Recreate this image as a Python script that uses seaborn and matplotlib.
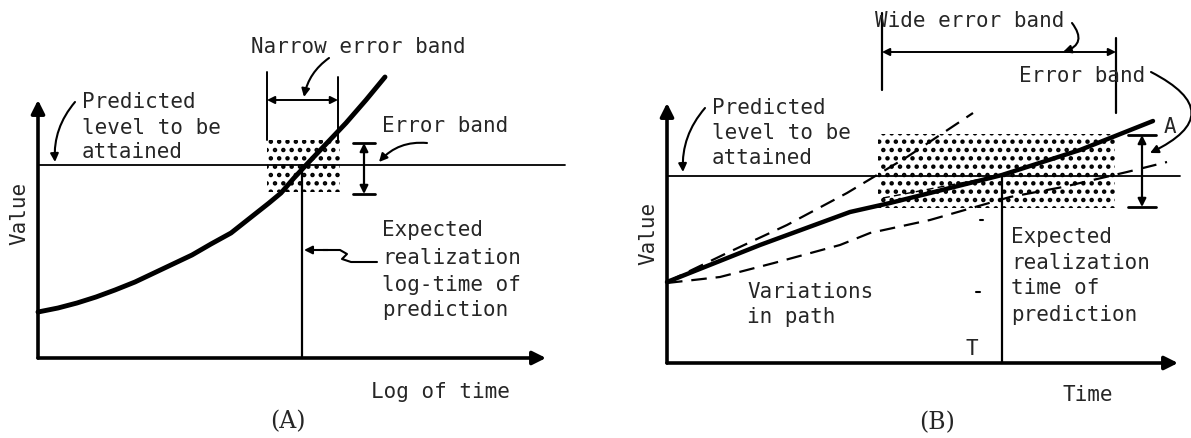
import matplotlib.pyplot as plt
import seaborn as sns
import pandas as pd
from matplotlib.patches import Rectangle, FancyArrowPatch

sns.set_theme(style='white')
plt.rcParams['font.family'] = ['DejaVu Sans Mono', 'DejaVu Sans']
plt.rcParams['hatch.linewidth'] = 2.0
plt.rcParams['hatch.color'] = 'black'

FS = 15

# ---------------- panel A data (diagram units, origin at axis corner) ----------------
a_curve_x = [0, 20, 39, 58, 77, 97, 116, 135, 154, 173, 193, 212, 231, 243, 256, 270, 289, 308, 328, 347]
a_curve_y = [46, 50, 55, 61, 68, 76, 85, 94, 103, 114, 125, 140, 155, 165, 180, 195, 215, 235, 258, 281]
a_level = 193
a_level_end = 527
a_axis_end = (508, 258)
a_realize_x = 264
a_box_x = (229, 302)
a_box_y = (166, 218)
a_narrow_x = (229, 300)
a_narrow_y = 258
a_err_x = 326
a_err_y = (164, 215)

# ---------------- panel B data ----------------
b_main_x = [0, 93, 183, 223, 263, 335, 413, 486]
b_main_y = [81, 118, 151, 160, 170, 188, 213, 242]
b_upper_x = [0, 60, 120, 180, 240, 306]
b_upper_y = [81, 110, 138, 170, 206, 250]
b_lower_x = [0, 53, 107, 173, 203, 263, 343, 396, 460, 500]
b_lower_y = [80, 86, 100, 118, 130, 143, 166, 176, 191, 201]
b_thin_x = [216, 320]
b_thin_y = [165, 185]
b_level = 187
b_level_end = 513
b_axis_end = (511, 260)
b_realize_x = 335
b_box_x = (211, 448)
b_box_y = (155, 229)
b_wide_x = (215, 449)
b_wide_y = 311
b_err_x = 475
b_err_y = (156, 228)

fig = plt.figure(figsize=(11.91, 4.38), dpi=100)
axA = fig.add_axes([0, 0, 590 / 1191, 1])
axB = fig.add_axes([590 / 1191, 0, 601 / 1191, 1])
axA.set_xlim(-38, 552)
axA.set_ylim(-80, 358)
axB.set_xlim(-77, 524)
axB.set_ylim(-75, 363)
for ax in (axA, axB):
    ax.axis('off')


def arrow(ax, start, end, style='-|>', lw=1.5, ms=14, rad=0.0):
    p = FancyArrowPatch(start, end, arrowstyle=style, mutation_scale=ms, lw=lw,
                        color='black', connectionstyle=f'arc3,rad={rad}',
                        shrinkA=0, shrinkB=0)
    ax.add_patch(p)


def axes_frame(ax, end):
    arrow(ax, (0, 0), (end[0], 0), lw=2.6, ms=20)
    arrow(ax, (0, 0), (0, end[1]), lw=2.6, ms=20)


def stipple(ax, xs, ys):
    ax.add_patch(Rectangle((xs[0], ys[0]), xs[1] - xs[0], ys[1] - ys[0],
                           facecolor='none', edgecolor='black', lw=0, hatch='..'))


def vband(ax, x, ys, cap=11):
    arrow(ax, (x, ys[0]), (x, ys[1]), style='<|-|>', lw=1.6, ms=12)
    for y in ys:
        ax.plot([x - cap, x + cap], [y, y], color='black', lw=2)


def lines(ax, x, ys, texts, **kw):
    for y, t in zip(ys, texts):
        ax.text(x, y, t, fontsize=FS, va='center', ha='left', **kw)


# ================= Panel A =================
axes_frame(axA, a_axis_end)
axA.plot([0, a_level_end], [a_level, a_level], color='black', lw=1.3)
stipple(axA, a_box_x, a_box_y)
dfa = pd.DataFrame({'t': a_curve_x, 'v': a_curve_y})
sns.lineplot(data=dfa, x='t', y='v', ax=axA, color='black', lw=3.5)
axA.plot([a_realize_x, a_realize_x], [0, a_level], color='black', lw=1.6)

# narrow error band
for x, top in zip(a_narrow_x, (286, 281)):
    axA.plot([x, x], [a_box_y[1], top], color='black', lw=1.4)
arrow(axA, (a_narrow_x[0], a_narrow_y), (a_narrow_x[1], a_narrow_y), style='<|-|>', lw=1.4, ms=11)
axA.text(320, 311, 'Narrow error band', fontsize=FS, ha='center', va='center')
arrow(axA, (291, 300), (266, 261), lw=1.5, ms=12, rad=0.2)

vband(axA, a_err_x, a_err_y)
axA.text(344, 232, 'Error band', fontsize=FS, va='center')
arrow(axA, (389, 215), (341, 196), lw=1.5, ms=12, rad=0.25)

lines(axA, 44, [256, 230, 206], ['Predicted', 'level to be', 'attained'])
arrow(axA, (37, 256), (17, 196), lw=1.5, ms=12, rad=0.2)

lines(axA, 344, [128, 100, 73, 48], ['Expected', 'realization', 'log-time of', 'prediction'])
axA.plot([339, 313, 304, 309, 302, 285], [96, 96, 99, 104, 108, 108], color='black', lw=1.5)
arrow(axA, (290, 108), (266, 108), lw=1.5, ms=12)

axA.text(-19, 145, 'Value', fontsize=FS, rotation=90, ha='center', va='center')
axA.text(402, -34, 'Log of time', fontsize=FS, ha='center', va='center')
axA.text(250, -64, '(A)', fontsize=17, ha='center', va='center', family='DejaVu Serif')

# ================= Panel B =================
axes_frame(axB, b_axis_end)
axB.plot([0, b_level_end], [b_level, b_level], color='black', lw=1.3)
stipple(axB, b_box_x, b_box_y)
dfb = pd.DataFrame({'t': b_main_x, 'v': b_main_y})
sns.lineplot(data=dfb, x='t', y='v', ax=axB, color='black', lw=3.2)
sns.lineplot(x=b_upper_x, y=b_upper_y, ax=axB, color='black', lw=1.6,
             linestyle=(0, (7, 4)))
sns.lineplot(x=b_lower_x, y=b_lower_y, ax=axB, color='black', lw=1.6,
             linestyle=(0, (7, 4)))
sns.lineplot(x=b_thin_x, y=b_thin_y, ax=axB, color='black', lw=1.0,
             linestyle=(0, (5, 3)))
axB.plot([b_realize_x, b_realize_x], [0, b_level], color='black', lw=1.6)

# wide error band
axB.plot([b_wide_x[0], b_wide_x[0]], [273, 350], color='black', lw=1.6)
axB.plot([b_wide_x[1], b_wide_x[1]], [250, 325], color='black', lw=1.6)
arrow(axB, (b_wide_x[0], b_wide_y), (b_wide_x[1], b_wide_y), style='<|-|>', lw=1.4, ms=11)
axB.text(208, 342, 'Wide error band', fontsize=FS, va='center')
arrow(axB, (405, 340), (396, 311), lw=1.5, ms=12, rad=-0.7)

vband(axB, b_err_x, b_err_y, cap=14)
axB.text(352, 287, 'Error band', fontsize=FS, va='center')
arrow(axB, (484, 291), (483, 210), lw=1.5, ms=12, rad=-1.0)
axB.text(503, 236, 'A', fontsize=FS, ha='center', va='center')

lines(axB, 45, [255, 230, 205], ['Predicted', 'level to be', 'attained'])
arrow(axB, (38, 255), (16, 191), lw=1.5, ms=12, rad=0.2)

lines(axB, 80, [71, 46], ['Variations', 'in path'])
lines(axB, 344, [126, 100, 75, 48], ['Expected', 'realization', 'time of', 'prediction'])
axB.text(305, 14, 'T', fontsize=FS, ha='center', va='center')
axB.plot([309, 313], [71, 71], color='black', lw=1.5)
axB.plot([313, 316], [143, 143], color='black', lw=1.5)

axB.text(-19, 130, 'Value', fontsize=FS, rotation=90, ha='center', va='center')
axB.text(421, -32, 'Time', fontsize=FS, ha='center', va='center')
axB.text(270, -60, '(B)', fontsize=17, ha='center', va='center', family='DejaVu Serif')

fig.savefig('out.png', dpi=100)
